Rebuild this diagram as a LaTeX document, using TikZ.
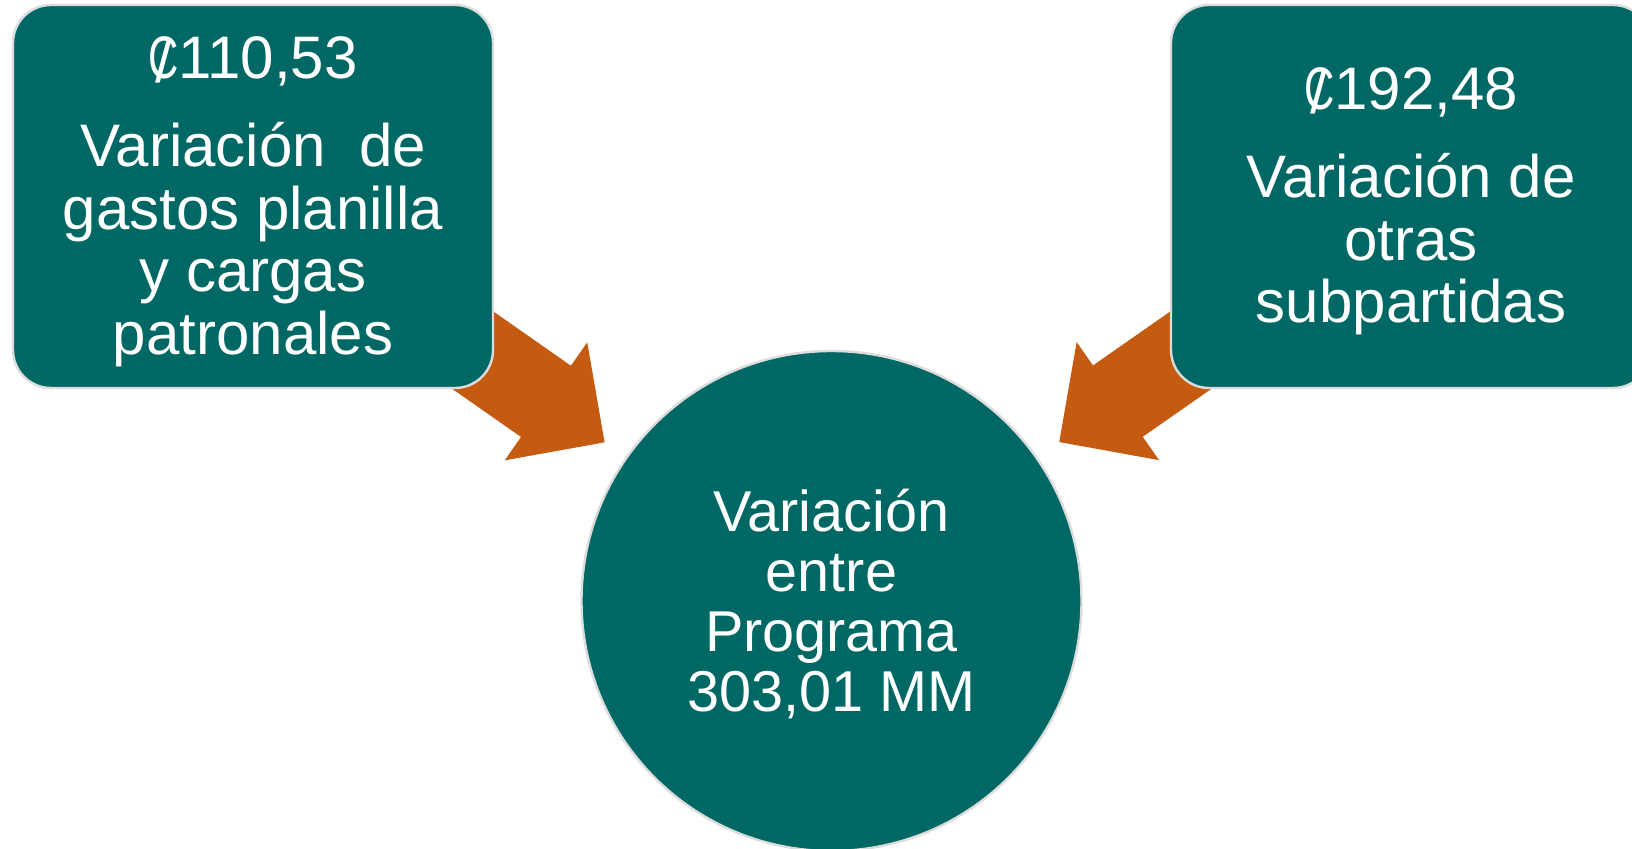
\documentclass[tikz,border=0pt]{standalone}
\usepackage{fontspec}
\usepackage{graphicx}
\setmainfont{Liberation Sans}
\pgfdeclarelayer{bg}
\pgfsetlayers{bg,main}
\definecolor{tealfill}{HTML}{006864}
\definecolor{orangefill}{HTML}{C55A11}
\definecolor{rimgray}{HTML}{DCDCDC}
\newcommand\colonsym{\ooalign{\scalebox{0.7}[1]{C}\cr\hidewidth\raisebox{-0.07em}{/}\hidewidth\cr}}
\tikzset{
  boxnode/.style={rectangle, rounded corners=19pt, fill=tealfill, draw=rimgray, line width=1.2pt,
    minimum width=240pt, minimum height=191.5pt, inner sep=0pt},
  boxtext/.style={inner sep=0pt, align=center, text=white,
    font=\fontsize{30}{31.25}\selectfont},
  roundnode/.style={circle, fill=tealfill, draw=rimgray, line width=1.2pt,
    minimum size=250pt, inner sep=0pt},
  roundtext/.style={inner sep=0pt, align=center, text=white,
    font=\fontsize{28.8}{30.15}\selectfont},
  blockarrow/.pic={
    \fill[orangefill] (250,-43.5) -- (357.5,-43.5) -- (357.5,-72) -- (429,0)
      -- (357.5,72) -- (357.5,43.5) -- (250,43.5) -- cycle;
  }
}
\begin{document}
\begin{tikzpicture}[x=0.5pt,y=-0.5pt]
\useasboundingbox (0,0) rectangle (1632,849);
\node[boxnode] (L) at (253,196.5) {};
\node[boxtext] (Lt) at ([yshift=-2.5pt]L.center) {\colonsym110,53\\[13pt]Variación~~de\\gastos planilla\\y cargas\\patronales};
\node[boxnode] (R) at (1411,196.5) {};
\node[boxtext] (Rt) at ([yshift=-2.5pt]R.center) {\colonsym192,48\\[13pt]Variación de\\otras\\subpartidas};
\node[roundnode] (C) at (831.5,601) {};
\node[roundtext] (Ct) at ([yshift=-1.5pt]C.center) {Variación\\entre\\Programa\\303,01 MM};
\begin{pgfonlayer}{bg}
\path (L.center) -- (C.center) pic[pos=0, sloped, allow upside down] {blockarrow};
\path (R.center) -- (C.center) pic[pos=0, sloped, allow upside down] {blockarrow};
\end{pgfonlayer}
\end{tikzpicture}
\end{document}
